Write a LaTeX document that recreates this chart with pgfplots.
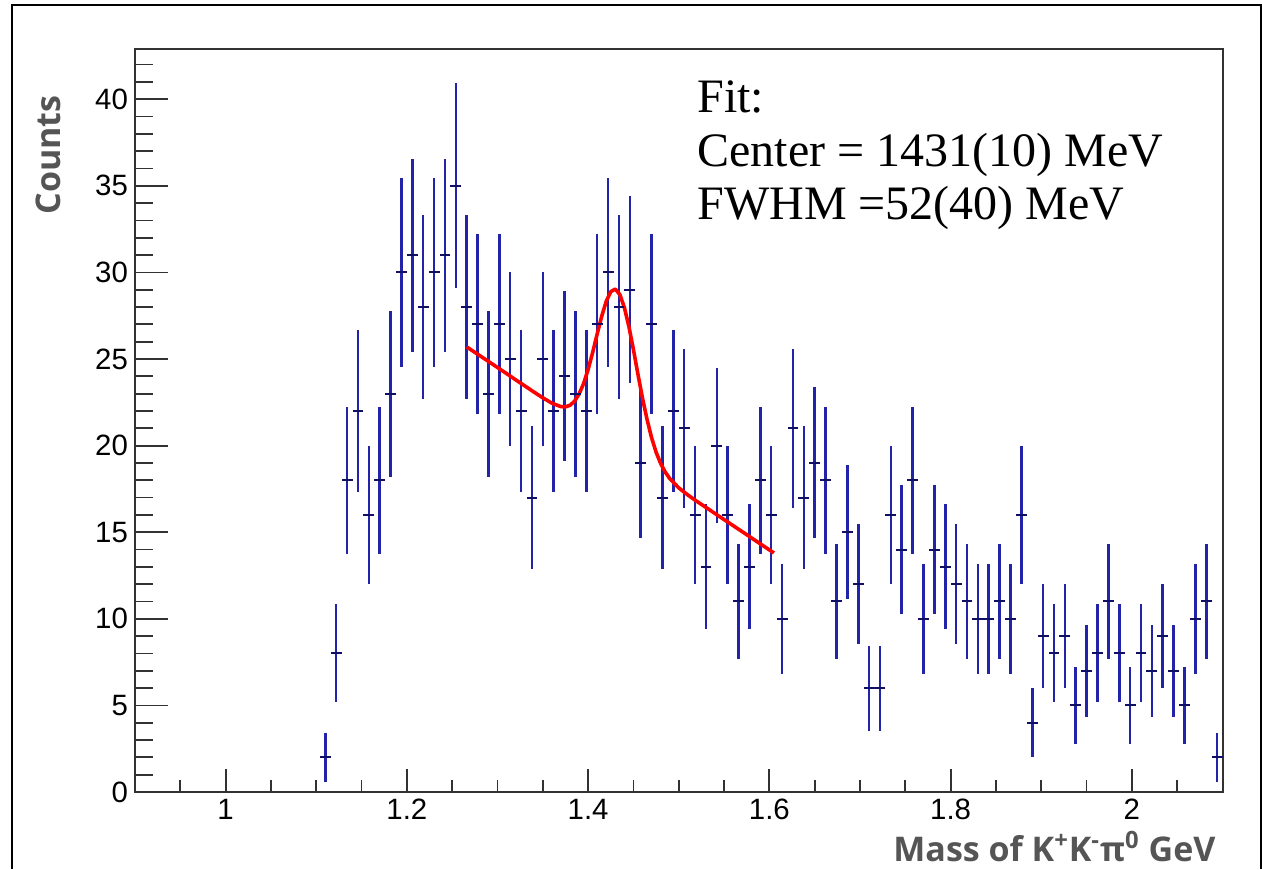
\documentclass[border=0pt]{standalone}
\usepackage{pgfplots}
\pgfplotsset{compat=1.18}
\usepackage{pgfplotstable}
\usepackage{fontspec}
\setmainfont{Liberation Serif}
\newfontfamily\ticfont{Liberation Sans}
\newfontfamily\labfont{Open Sans}
\definecolor{barblue}{RGB}{35,35,170}
\definecolor{bardark}{RGB}{15,15,100}
\definecolor{labgray}{RGB}{85,85,85}
\definecolor{framegray}{RGB}{50,50,50}

\pgfplotstableread{
x y e
1.110 2 1.414
1.122 8 2.828
1.134 18 4.243
1.146 22 4.690
1.158 16 4.000
1.170 18 4.243
1.182 23 4.796
1.194 30 5.477
1.206 31 5.568
1.218 28 5.292
1.230 30 5.477
1.242 31 5.568
1.254 35 5.916
1.266 28 5.292
1.278 27 5.196
1.290 23 4.796
1.302 27 5.196
1.314 25 5.000
1.326 22 4.690
1.338 17 4.123
1.350 25 5.000
1.362 22 4.690
1.374 24 4.899
1.386 23 4.796
1.398 22 4.690
1.410 27 5.196
1.422 30 5.477
1.434 28 5.292
1.446 29 5.385
1.458 19 4.359
1.470 27 5.196
1.482 17 4.123
1.494 22 4.690
1.506 21 4.583
1.518 16 4.000
1.530 13 3.606
1.542 20 4.472
1.554 16 4.000
1.566 11 3.317
1.578 13 3.606
1.590 18 4.243
1.602 16 4.000
1.614 10 3.162
1.626 21 4.583
1.638 17 4.123
1.650 19 4.359
1.662 18 4.243
1.674 11 3.317
1.686 15 3.873
1.698 12 3.464
1.710 6 2.449
1.722 6 2.449
1.734 16 4.000
1.746 14 3.742
1.758 18 4.243
1.770 10 3.162
1.782 14 3.742
1.794 13 3.606
1.806 12 3.464
1.818 11 3.317
1.830 10 3.162
1.842 10 3.162
1.854 11 3.317
1.866 10 3.162
1.878 16 4.000
1.890 4 2.000
1.902 9 3.000
1.914 8 2.828
1.926 9 3.000
1.938 5 2.236
1.950 7 2.646
1.962 8 2.828
1.974 11 3.317
1.986 8 2.828
1.998 5 2.236
2.010 8 2.828
2.022 7 2.646
2.034 9 3.000
2.046 7 2.646
2.058 5 2.236
2.070 10 3.162
2.082 11 3.317
2.094 2 1.414
}\histdata

\begin{document}
\begin{tikzpicture}
\useasboundingbox (0pt,0pt) rectangle (631pt,434.5pt);
\draw[line width=1pt] (6pt,0pt) -- (6pt,432pt) -- (630.5pt,432pt) -- (630.5pt,0pt);
\begin{axis}[
  at={(67.5pt,38.5pt)}, anchor=south west,
  width=543.75pt, height=371.5pt, scale only axis,
  xmin=0.9, xmax=2.1, ymin=0, ymax=42.9,
  xtick={1,1.2,1.4,1.6,1.8,2},
  minor xtick={0.95,1.05,1.1,1.15,1.25,1.3,1.35,1.45,1.5,1.55,1.65,1.7,1.75,1.85,1.9,1.95,2.05},
  ytick={0,5,10,15,20,25,30,35,40},
  minor ytick={1,2,3,4,6,7,8,9,11,12,13,14,16,17,18,19,21,22,23,24,26,27,28,29,31,32,33,34,36,37,38,39,41,42},
  tick pos=left, tick align=inside,
  axis line style={framegray, line width=1pt},
  tick style={framegray, line width=0.9pt},
  xtick style={/pgfplots/major tick length=11.5pt, /pgfplots/minor tick length=6pt},
  ytick style={/pgfplots/major tick length=16.5pt, /pgfplots/minor tick length=9pt},
  tick label style={font=\ticfont\fontsize{14.7}{16}\selectfont, black},
  /pgf/number format/assume math mode=true,
  ylabel={Counts},
  ylabel style={at={(axis description cs:-0.08,0.938)}, anchor=east, inner sep=0pt, color=labgray, font=\labfont\bfseries\fontsize{17}{17}\selectfont},
  xlabel={Mass of K\textsuperscript{+}K\textsuperscript{-}π\textsuperscript{0} GeV},
  xlabel style={at={(axis description cs:1,-0.093)}, anchor=base east, color=labgray, font=\labfont\bfseries\fontsize{17}{17}\selectfont},
  clip=false,
]
\addplot[only marks, mark=-, mark size=2.72pt, mark options={draw=bardark, line width=1pt},
  error bars/.cd, y dir=both, y explicit, error mark=none,
  error bar style={draw=barblue, line width=1.3pt}]
  table[x=x, y=y, y error=e] {\histdata};
\addplot[red, line width=1.8pt, line join=round, mark=none] coordinates {
(1.266,25.70) (1.28,25.21) (1.29,24.86) (1.30,24.51) (1.31,24.16) (1.32,23.80) (1.33,23.45) (1.34,23.10) (1.35,22.76) (1.36,22.45) (1.37,22.25) (1.375,22.24) (1.38,22.33) (1.385,22.56) (1.39,22.98) (1.395,23.58) (1.40,24.40) (1.405,25.38) (1.41,26.45) (1.415,27.47) (1.42,28.34) (1.425,28.89) (1.43,29.04) (1.435,28.72) (1.44,27.97) (1.445,26.87) (1.45,25.54) (1.455,24.11) (1.46,22.74) (1.465,21.51) (1.47,20.46) (1.475,19.62) (1.48,18.97) (1.485,18.48) (1.49,18.10) (1.50,17.56) (1.51,17.15) (1.52,16.78) (1.53,16.43) (1.54,16.08) (1.55,15.73) (1.56,15.38) (1.57,15.03) (1.58,14.68) (1.59,14.33) (1.60,13.98) (1.605,13.80)
};
\node[anchor=base west, inner sep=0pt, font=\fontsize{24}{28}\selectfont] at (axis description cs:0.5168,0.9152) {Fit:};
\node[anchor=base west, inner sep=0pt, font=\fontsize{24}{28}\selectfont] at (axis description cs:0.5168,0.8425) {Center = 1431(10) MeV};
\node[anchor=base west, inner sep=0pt, font=\fontsize{24}{28}\selectfont] at (axis description cs:0.5168,0.7699) {FWHM =52(40) MeV};
\end{axis}
\end{tikzpicture}
\end{document}
